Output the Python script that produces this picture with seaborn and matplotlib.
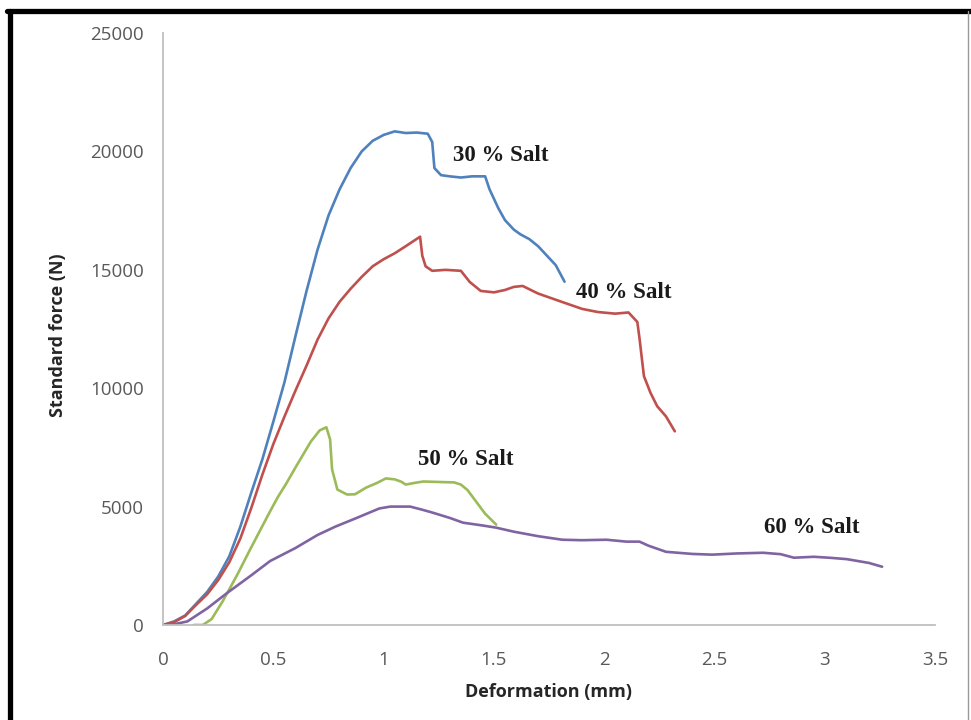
import numpy as np
import pandas as pd
import matplotlib
matplotlib.use("Agg")
import matplotlib.pyplot as plt
from matplotlib.lines import Line2D
import seaborn as sns

# ---- data ----
x30 = [0, 0.05, 0.1, 0.15, 0.2, 0.25, 0.3, 0.35, 0.4, 0.45, 0.5, 0.55, 0.6, 0.65, 0.7, 0.75, 0.8, 0.85,
       0.9, 0.95, 1.0, 1.05, 1.1, 1.15, 1.2, 1.22, 1.23, 1.26, 1.3, 1.35, 1.4, 1.46, 1.48, 1.52, 1.55,
       1.59, 1.62, 1.66, 1.7, 1.74, 1.78, 1.82]
y30 = [0, 150, 400, 900, 1400, 2050, 2900, 4150, 5600, 7000, 8600, 10250, 12200, 14100, 15850, 17300,
       18400, 19300, 20000, 20450, 20700, 20850, 20780, 20800, 20750, 20400, 19300, 19000, 18950, 18900,
       18950, 18950, 18400, 17600, 17100, 16700, 16500, 16300, 16000, 15600, 15200, 14500]

x40 = [0, 0.05, 0.1, 0.15, 0.2, 0.25, 0.3, 0.35, 0.4, 0.45, 0.5, 0.55, 0.6, 0.65, 0.7, 0.75, 0.8, 0.85,
       0.9, 0.95, 1.0, 1.05, 1.1, 1.165, 1.175, 1.19, 1.22, 1.28, 1.35, 1.39, 1.44, 1.5, 1.55, 1.59, 1.63,
       1.7, 1.81, 1.9, 1.97, 2.05, 2.11, 2.15, 2.16, 2.17, 2.18, 2.21, 2.24, 2.28, 2.32]
y40 = [0, 120, 380, 850, 1300, 1900, 2650, 3650, 4950, 6350, 7650, 8800, 9900, 10950, 12050, 12950,
       13650, 14200, 14700, 15150, 15450, 15700, 16000, 16400, 15600, 15150, 14960, 15000, 14960, 14490,
       14110, 14050, 14150, 14280, 14320, 14000, 13640, 13350, 13220, 13150, 13200, 12800, 12100, 11300,
       10510, 9800, 9240, 8810, 8180]

x50 = [0.14, 0.18, 0.22, 0.27, 0.335, 0.394, 0.44, 0.485, 0.52, 0.56, 0.6, 0.635, 0.67, 0.71, 0.74, 0.757,
       0.766, 0.79, 0.834, 0.87, 0.92, 0.97, 1.01, 1.05, 1.08, 1.10, 1.14, 1.18, 1.25, 1.32, 1.35, 1.38,
       1.42, 1.46, 1.51]
y50 = [0, 0, 250, 1000, 2100, 3180, 4000, 4800, 5400, 6000, 6650, 7200, 7750, 8220, 8350, 7840,
       6570, 5720, 5510, 5520, 5800, 6000, 6190, 6150, 6050, 5930, 6000, 6060, 6040, 6020, 5930, 5700,
       5200, 4700, 4240]

x60 = [0, 0.05, 0.11, 0.2, 0.29, 0.4, 0.485, 0.6, 0.7, 0.78, 0.88, 0.98, 1.03, 1.12, 1.17, 1.22, 1.3, 1.36,
       1.45, 1.51, 1.59, 1.7, 1.81, 1.9, 2.01, 2.1, 2.16, 2.2, 2.28, 2.4, 2.49, 2.6, 2.72, 2.8, 2.86, 2.95,
       3.02, 3.1, 3.2, 3.26]
y60 = [0, 30, 150, 700, 1350, 2100, 2700, 3250, 3800, 4150, 4530, 4920, 5000, 5000, 4880, 4750, 4520, 4320,
       4200, 4110, 3940, 3750, 3600, 3580, 3600, 3520, 3520, 3350, 3090, 3000, 2970, 3020, 3050, 2990, 2840,
       2880, 2840, 2780, 2620, 2460]

series_names = ["30 % Salt", "40 % Salt", "50 % Salt", "60 % Salt"]
label_x = [1.53, 2.09, 1.37, 2.94]
label_y = [19830, 14050, 6990, 4110]
x_ticks = [0, 0.5, 1, 1.5, 2, 2.5, 3, 3.5]
x_tick_labels = ["0", "0.5", "1", "1.5", "2", "2.5", "3", "3.5"]
y_ticks = [0, 5000, 10000, 15000, 20000, 25000]

colors = ["#4F81BD", "#C0504D", "#9BBB59", "#8064A2"]

frames = []
for name, xs, ys in zip(series_names, [x30, x40, x50, x60], [y30, y40, y50, y60]):
    frames.append(pd.DataFrame({"x": xs, "y": ys, "series": name}))
df = pd.concat(frames, ignore_index=True)

sns.set_style("white")
plt.rcParams["font.family"] = ["Open Sans", "DejaVu Sans"]

fig = plt.figure(figsize=(9.71, 7.2), dpi=100)
ax = fig.add_axes([0.168, 0.132, 0.795, 0.822])

sns.lineplot(data=df, x="x", y="y", hue="series", palette=dict(zip(series_names, colors)),
             sort=False, estimator=None, units="series", linewidth=1.9, legend=False, ax=ax)

ax.set_xlim(0, 3.5)
ax.set_ylim(0, 25000)
ax.set_xticks(x_ticks)
ax.set_xticklabels(x_tick_labels)
ax.set_yticks(y_ticks)
ax.tick_params(axis="both", length=0, labelsize=13.5, labelcolor="#595959")
ax.tick_params(axis="y", pad=14)
ax.tick_params(axis="x", pad=19)

for s in ["top", "right"]:
    ax.spines[s].set_visible(False)
for s in ["left", "bottom"]:
    ax.spines[s].set_color("#BFBFBF")
    ax.spines[s].set_linewidth(1.3)

ax.set_xlabel("Deformation (mm)", fontsize=13, fontweight="bold", color="#262626")
ax.set_ylabel("Standard force (N)", fontsize=13, fontweight="bold", color="#262626")
ax.xaxis.set_label_coords(0.499, -0.098)
ax.yaxis.set_label_coords(-0.124, 0.49)

for name, lx, ly in zip(series_names, label_x, label_y):
    ax.text(lx, ly, name, fontsize=16.5, fontweight="bold", family=["Liberation Serif", "DejaVu Serif"],
            ha="center", va="center", color="#1a1a1a")

# outer frame of the reference image
fig.add_artist(Line2D([7 / 971, 1], [1 - 10.5 / 720] * 2, transform=fig.transFigure, color="black", linewidth=3.8))
fig.add_artist(Line2D([9.5 / 971] * 2, [0, 1 - 10.5 / 720], transform=fig.transFigure, color="black", linewidth=3.8))
fig.add_artist(Line2D([967.5 / 971] * 2, [0, 1 - 10.5 / 720], transform=fig.transFigure, color="#9a9a9a", linewidth=1.0))

fig.savefig("out.png", dpi=100)
